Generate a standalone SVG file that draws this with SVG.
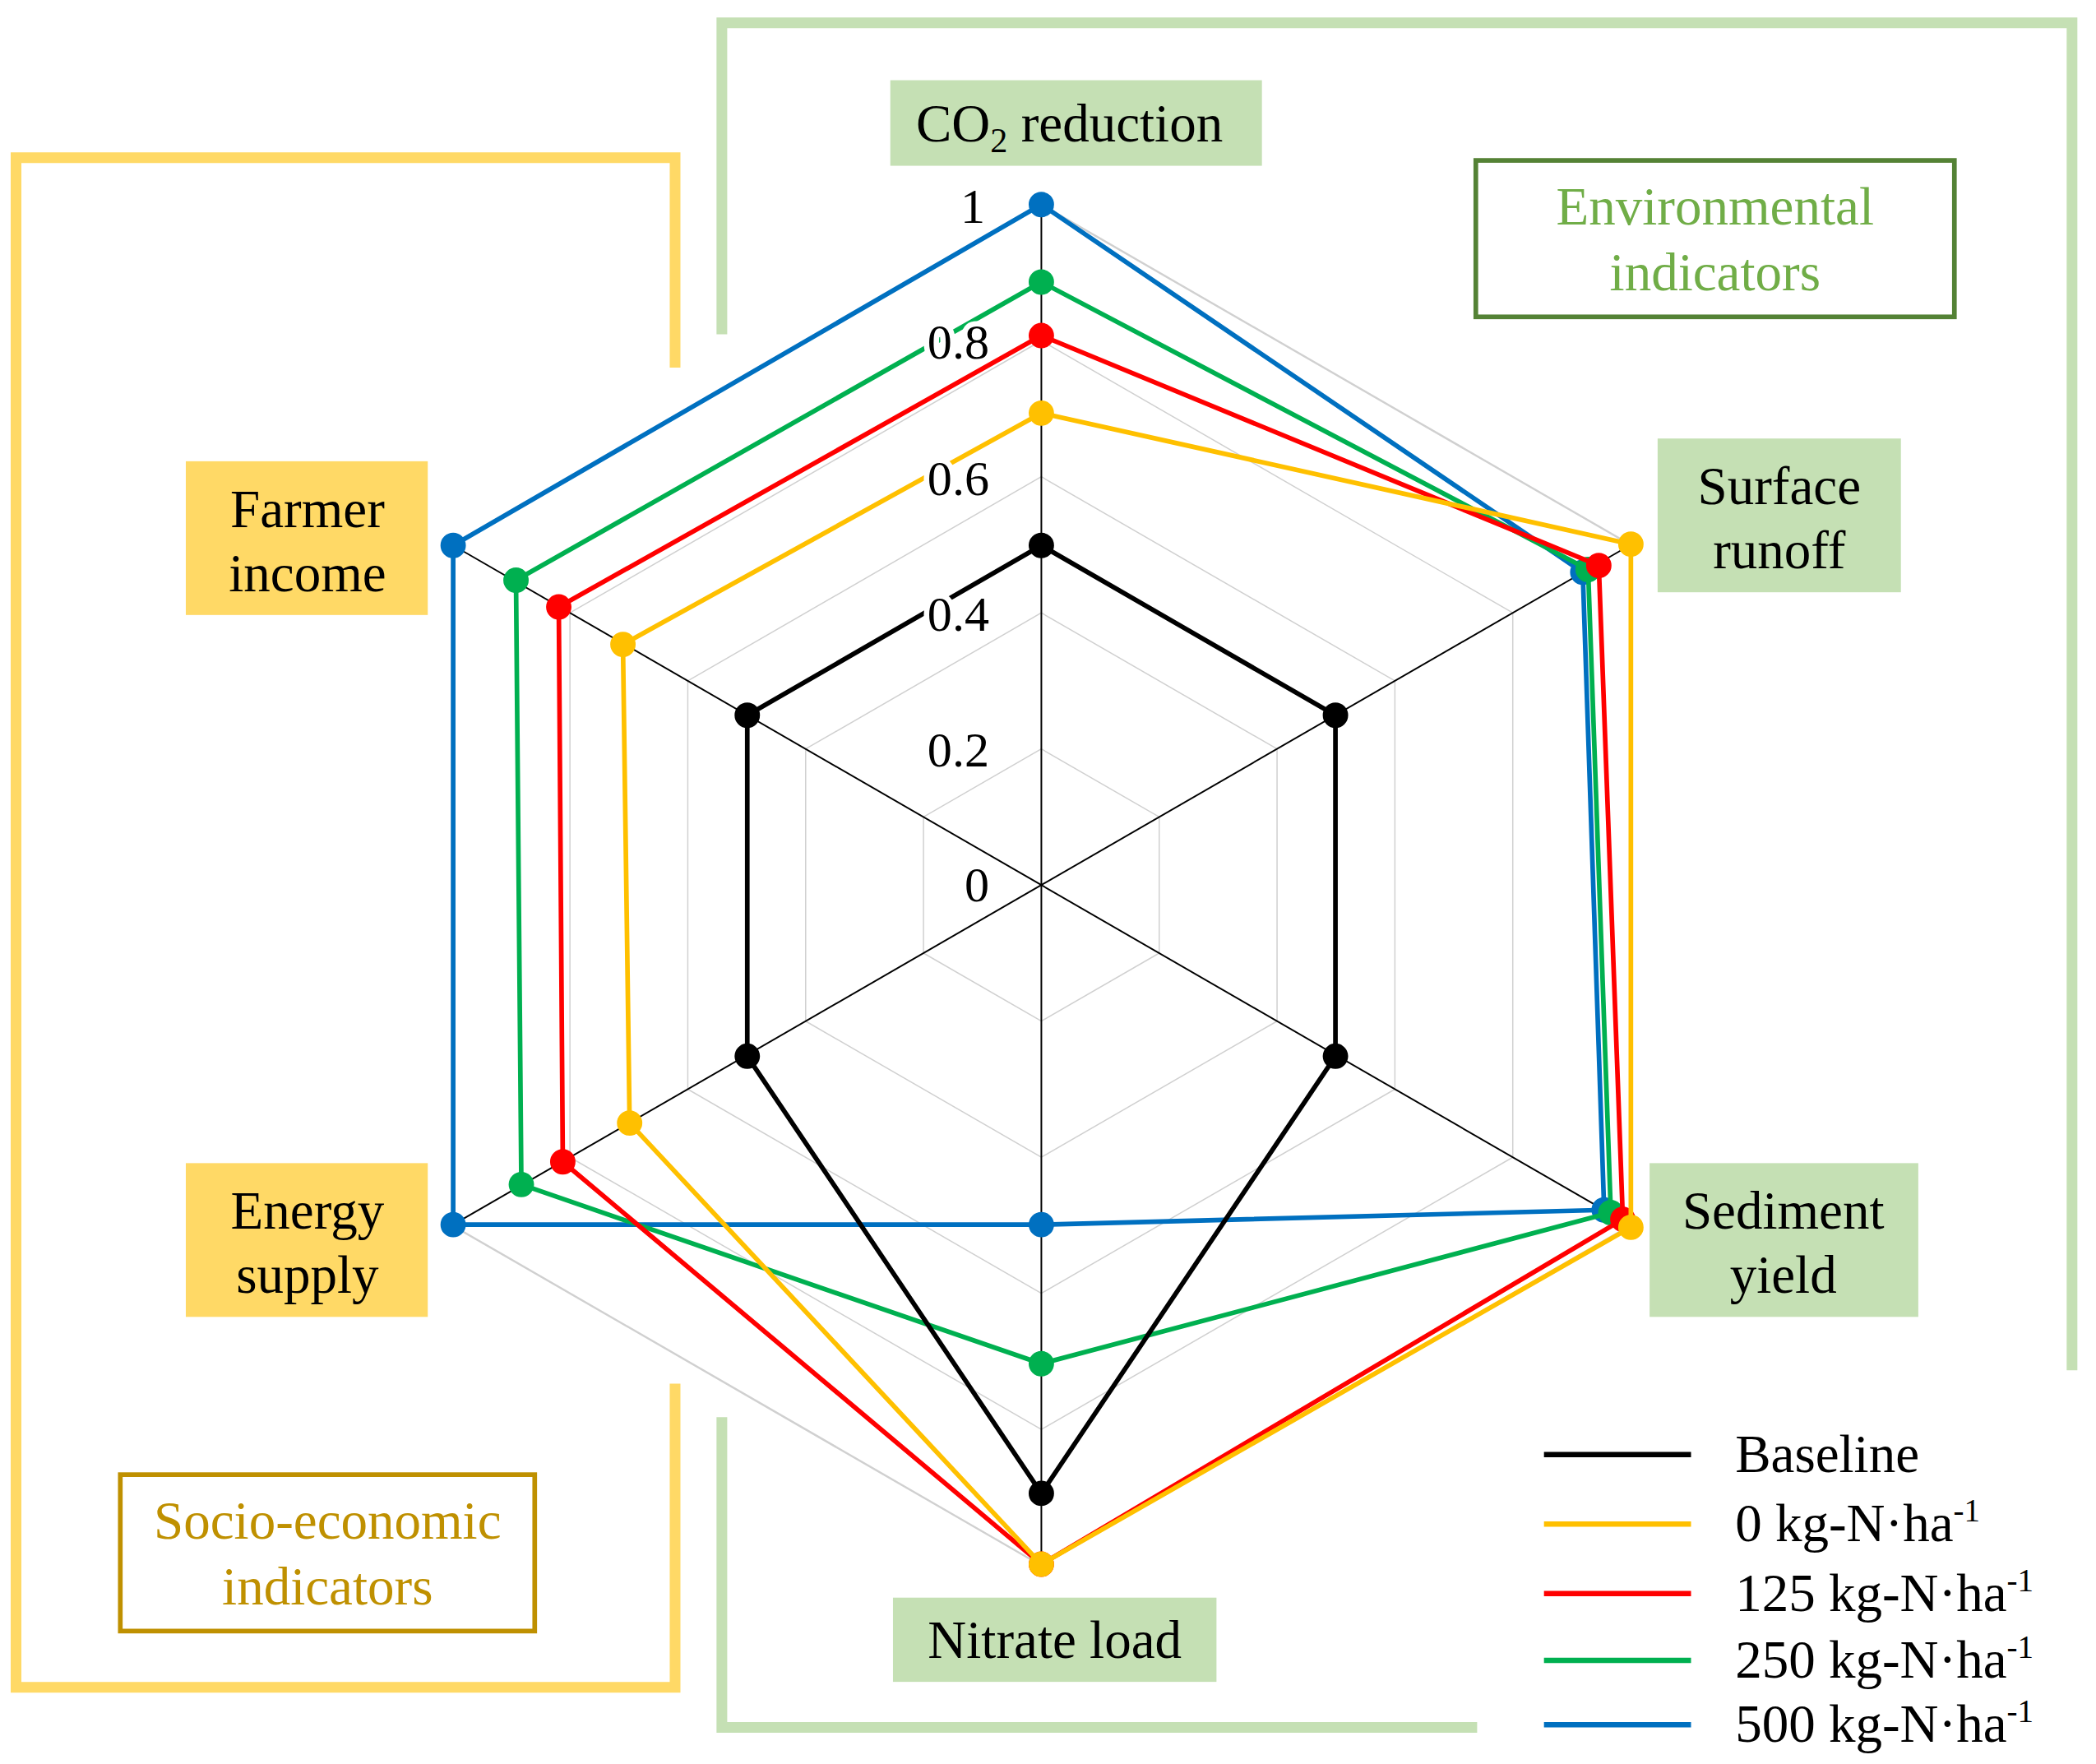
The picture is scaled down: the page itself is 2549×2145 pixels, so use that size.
<svg xmlns="http://www.w3.org/2000/svg" width="2549" height="2145" viewBox="0 0 2549 2145">
<style>
.t{font-family:"Liberation Serif",serif;font-size:40px;fill:#000}
.ax{font-family:"Liberation Serif",serif;font-size:37px;fill:#000;text-anchor:end;stroke:#fff;stroke-width:8px;paint-order:stroke}
.grid{fill:none;stroke:#d0d0d0;stroke-width:1.5}
.s{fill:none;stroke-width:3.5;stroke-linejoin:round}
.gb{fill:#c5e0b4}.yb{fill:#ffd966}
</style>
<rect width="2549" height="2145" fill="#fff"/>
<g transform="scale(1.6257)">
<g id="brackets" fill="none" stroke-width="8">
<polyline points="505,275 505,118 12,118 12,1262 505,1262 505,1035" stroke="#ffd966"/>
<polyline points="540,250 540,17 1550,17 1550,1025" stroke="#c5e0b4"/>
<polyline points="540,1060 540,1292 1105,1292" stroke="#c5e0b4"/>
</g>
<g id="grid">
<polygon class="grid" vector-effect="non-scaling-stroke" transform="translate(779 662) scale(0.2)" points="0,-509 440.8,-254.5 440.8,254.5 0,509 -440.8,254.5 -440.8,-254.5"/>
<polygon class="grid" transform="translate(779 662) scale(0.4)" vector-effect="non-scaling-stroke" points="0,-509 440.8,-254.5 440.8,254.5 0,509 -440.8,254.5 -440.8,-254.5"/>
<polygon class="grid" transform="translate(779 662) scale(0.6)" vector-effect="non-scaling-stroke" points="0,-509 440.8,-254.5 440.8,254.5 0,509 -440.8,254.5 -440.8,-254.5"/>
<polygon class="grid" transform="translate(779 662) scale(0.8)" vector-effect="non-scaling-stroke" points="0,-509 440.8,-254.5 440.8,254.5 0,509 -440.8,254.5 -440.8,-254.5"/>
<polygon class="grid" transform="translate(779 662)" points="0,-509 440.8,-254.5 440.8,254.5 0,509 -440.8,254.5 -440.8,-254.5"/>
<g stroke="#000" stroke-width="1.2">
<line x1="779" y1="662" x2="779" y2="153"/><line x1="779" y1="662" x2="1219.8" y2="407.5"/>
<line x1="779" y1="662" x2="1219.8" y2="916.5"/><line x1="779" y1="662" x2="779" y2="1171"/>
<line x1="779" y1="662" x2="338.2" y2="916.5"/><line x1="779" y1="662" x2="338.2" y2="407.5"/>
</g>
</g>
<g id="connectors">
<g id="s500" stroke="#0070c0" fill="#0070c0"><polygon class="s" points="779,153 1184,428 1200,905 779,916 339,916 339,408"/>
<circle cx="779" cy="153" r="9"/><circle cx="1184" cy="428" r="9"/><circle cx="1200" cy="905" r="9"/><circle cx="779" cy="916" r="9"/><circle cx="339" cy="916" r="9"/><circle cx="339" cy="408" r="9"/></g>
<g id="s250" stroke="#00b050" fill="#00b050"><polygon class="s" points="779,211 1188,426 1205,907 779,1020 390,886 386,434"/>
<circle cx="779" cy="211" r="9"/><circle cx="1188" cy="426" r="9"/><circle cx="1205" cy="907" r="9"/><circle cx="779" cy="1020" r="9"/><circle cx="390" cy="886" r="9"/><circle cx="386" cy="434" r="9"/></g>
<g id="s125" stroke="#ff0000" fill="#ff0000"><polygon class="s" points="779,251 1196,423 1214,912 779,1170 421,869 418,454"/>
<circle cx="779" cy="251" r="9"/><circle cx="1196" cy="423" r="9"/><circle cx="1214" cy="912" r="9"/><circle cx="779" cy="1170" r="9"/><circle cx="421" cy="869" r="9"/><circle cx="418" cy="454" r="9"/></g>
<g id="s0" stroke="#ffc000" fill="#ffc000"><polygon class="s" points="779,309 1220,407 1220,918 779,1170 471,840 466,482"/>
<circle cx="779" cy="309" r="9"/><circle cx="1220" cy="407" r="9"/><circle cx="1220" cy="918" r="9"/><circle cx="779" cy="1170" r="9"/><circle cx="471" cy="840" r="9"/><circle cx="466" cy="482" r="9"/></g>
<g id="sbase" stroke="#000" fill="#000"><polygon class="s" points="779,408 999,535 999,790 779,1117 559,790 559,535"/>
<circle cx="779" cy="408" r="9"/><circle cx="999" cy="535" r="9"/><circle cx="999" cy="790" r="9"/><circle cx="779" cy="1117" r="9"/><circle cx="559" cy="790" r="9"/><circle cx="559" cy="535" r="9"/></g>
</g>
<g id="axislabels">
<text class="ax" x="737" y="167">1</text><text class="ax" x="740" y="268">0.8</text><text class="ax" x="740" y="370">0.6</text>
<text class="ax" x="740" y="472">0.4</text><text class="ax" x="740" y="573">0.2</text><text class="ax" x="740" y="674">0</text>
</g>
<g id="co2"><rect class="gb" x="666" y="60" width="278" height="64"/><text class="t" x="800" y="106" text-anchor="middle">CO<tspan font-size="26" dy="8">2</tspan><tspan dy="-8"> reduction</tspan></text></g>
<g id="runoff"><rect class="gb" x="1240" y="328" width="182" height="115"/><text class="t" x="1331" y="377" text-anchor="middle">Surface</text><text class="t" x="1331" y="425" text-anchor="middle">runoff</text></g>
<g id="sediment"><rect class="gb" x="1234" y="870" width="201" height="115"/><text class="t" x="1334" y="919" text-anchor="middle">Sediment</text><text class="t" x="1334" y="967" text-anchor="middle">yield</text></g>
<g id="nitrate"><rect class="gb" x="668" y="1195" width="242" height="63"/><text class="t" x="789" y="1240" text-anchor="middle">Nitrate load</text></g>
<g id="farmer"><rect class="yb" x="139" y="345" width="181" height="115"/><text class="t" x="230" y="394" text-anchor="middle">Farmer</text><text class="t" x="230" y="442" text-anchor="middle">income</text></g>
<g id="energy"><rect class="yb" x="139" y="870" width="181" height="115"/><text class="t" x="230" y="919" text-anchor="middle">Energy</text><text class="t" x="230" y="967" text-anchor="middle">supply</text></g>
<g id="env"><rect x="1104" y="120" width="358" height="117" fill="#fff" stroke="#548235" stroke-width="3.5"/><text class="t" x="1283" y="168" text-anchor="middle" style="fill:#70ad47">Environmental</text><text class="t" x="1283" y="217" text-anchor="middle" style="fill:#70ad47">indicators</text></g>
<g id="socio"><rect x="90" y="1103" width="310" height="117" fill="#fff" stroke="#bf9000" stroke-width="3.5"/><text class="t" x="245" y="1151" text-anchor="middle" style="fill:#bf9000">Socio-economic</text><text class="t" x="245" y="1200" text-anchor="middle" style="fill:#bf9000">indicators</text></g>
<g id="legend" stroke-width="4">
<line x1="1155" y1="1088" x2="1265" y2="1088" stroke="#000"/><text class="t" x="1298" y="1101">Baseline</text>
<line x1="1155" y1="1140" x2="1265" y2="1140" stroke="#ffc000"/><text class="t" x="1298" y="1153">0 kg-N·ha<tspan font-size="24" dy="-15">-1</tspan></text>
<line x1="1155" y1="1192" x2="1265" y2="1192" stroke="#ff0000"/><text class="t" x="1298" y="1205">125 kg-N·ha<tspan font-size="24" dy="-15">-1</tspan></text>
<line x1="1155" y1="1242" x2="1265" y2="1242" stroke="#00b050"/><text class="t" x="1298" y="1255">250 kg-N·ha<tspan font-size="24" dy="-15">-1</tspan></text>
<line x1="1155" y1="1290" x2="1265" y2="1290" stroke="#0070c0"/><text class="t" x="1298" y="1303">500 kg-N·ha<tspan font-size="24" dy="-15">-1</tspan></text>
</g>
</g>
</svg>
